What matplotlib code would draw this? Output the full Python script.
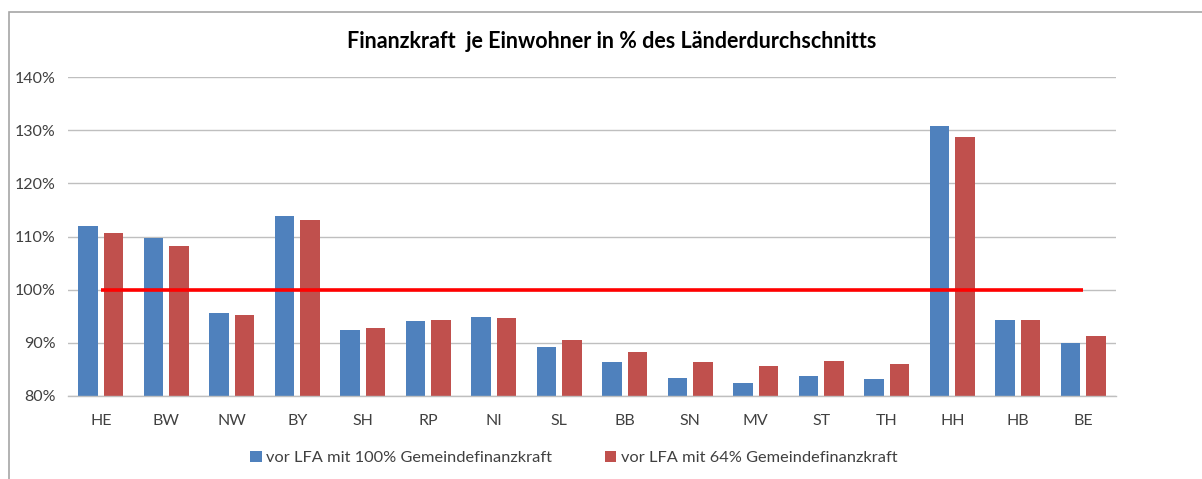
import matplotlib
matplotlib.use("Agg")
import matplotlib.pyplot as plt
import numpy as np
from matplotlib.patches import Rectangle

categories = ["HE", "BW", "NW", "BY", "SH", "RP", "NI", "SL", "BB", "SN", "MV", "ST", "TH", "HH", "HB", "BE"]
vals_100 = [112.0, 109.7, 95.5, 113.9, 92.3, 94.0, 94.8, 89.2, 86.3, 83.4, 82.3, 83.7, 83.1, 130.9, 94.3, 90.0]
vals_64 = [110.7, 108.3, 95.3, 113.2, 92.8, 94.2, 94.6, 90.5, 88.3, 86.3, 85.6, 86.5, 85.9, 128.7, 94.3, 91.3]
avg_line = [100.0] * len(categories)
series_labels = ["vor LFA mit 100% Gemeindefinanzkraft", "vor LFA mit 64% Gemeindefinanzkraft"]
yticks = [80, 90, 100, 110, 120, 130, 140]
title = "Finanzkraft  je Einwohner in % des Länderdurchschnitts"

plt.rcParams['font.family'] = ['Lato', 'DejaVu Sans']

fig = plt.figure(figsize=(12.02, 4.79), dpi=100)
# outer chart frame
fig.patches.append(Rectangle((9/1202, -0.1), 1.2, 1 - 12/479 + 0.1, transform=fig.transFigure,
                             fill=False, edgecolor="#A6A6A6", linewidth=1.2))

ax = fig.add_axes([68/1202, 1 - 395.7/479, (1116 - 68)/1202, (395.7 - 77.3)/479])
x = np.arange(len(categories))
w = 0.30
off = 0.195
ax.bar(x - off, np.array(vals_100) - 80, width=w, bottom=80, color="#4F81BD", label=series_labels[0], zorder=2)
ax.bar(x + off, np.array(vals_64) - 80, width=w, bottom=80, color="#C0504D", label=series_labels[1], zorder=2)
ax.plot(x, avg_line, color="#FF0000", linewidth=2.6, zorder=3, solid_capstyle="butt")

ax.set_xlim(-0.5, len(categories) - 0.5)
ax.set_ylim(80, 140)
ax.set_yticks(yticks)
ax.set_yticklabels([f"{v}%" for v in yticks], fontsize=11.5, color="#404040")
ax.set_xticks(x)
ax.set_xticklabels(categories, fontsize=11.5, color="#404040")
ax.tick_params(axis="both", length=0)
ax.tick_params(axis="x", pad=13)
ax.tick_params(axis="y", pad=9)
ax.grid(axis="y", color="#BFBFBF", linewidth=1, zorder=0)
ax.set_axisbelow(True)
for s in ["top", "right", "left"]:
    ax.spines[s].set_visible(False)
ax.spines["bottom"].set_color("#BFBFBF")
ax.spines["bottom"].set_linewidth(1)

fig.text(612/1202, 1 - 41/479, title, ha="center", va="center", fontsize=15.5, fontweight="bold", color="#000000")

handles, labels = ax.get_legend_handles_labels()
leg = fig.legend(handles, labels, loc="center", bbox_to_anchor=(574/1202, 1 - 458/479), ncol=2, frameon=False,
                 fontsize=11.8, handlelength=0.7, handleheight=0.7, handletextpad=0.3, columnspacing=3.2)
for t in leg.get_texts():
    t.set_color("#404040")

fig.savefig("out.png", dpi=100)
